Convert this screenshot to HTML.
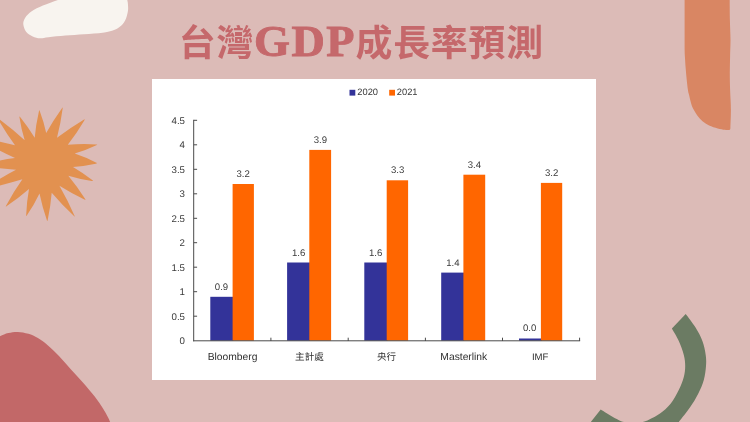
<!DOCTYPE html>
<html lang="zh-Hant">
<head>
<meta charset="utf-8">
<title>台灣GDP成長率預測</title>
<style>
html,body{margin:0;padding:0;}
body{width:750px;height:422px;overflow:hidden;background:#dcbbb7;position:relative;font-family:"Liberation Sans","Noto Sans CJK TC",sans-serif;}
#deco{position:absolute;left:0;top:0;width:750px;height:422px;}
#title{position:absolute;left:0;top:0;width:750px;height:80px;color:#c5686b;white-space:nowrap;}
#title span{position:absolute;display:block;line-height:1;}
#t1,#t3{font-family:"Noto Sans CJK TC","Noto Sans CJK SC",sans-serif;font-weight:700;font-size:37px;}
#t2{font-family:"Liberation Serif",serif;font-weight:700;font-size:44.6px;letter-spacing:1.5px;transform-origin:0 0;transform:scaleX(1.035);-webkit-text-stroke:0.9px #c5686b;}
#chart{position:absolute;left:152px;top:79px;width:444px;height:301px;background:#fff;}
#chart svg{position:absolute;left:0;top:0;filter:blur(0.35px);}
#chart text{font-family:"Liberation Sans","Noto Sans CJK TC",sans-serif;fill:#3a3a3a;}
#chart .cat text{fill:#303030;}
</style>
</head>
<body>
<svg id="deco" width="750" height="422" viewBox="0 0 750 422">
  <!-- white blob top-left -->
  <path fill="#f8f4ef" d="M70.0,-5.0 C68.0,-4.2 62.4,-1.8 57.9,0.0 C53.4,1.8 47.3,3.7 42.9,5.6 C38.5,7.5 34.6,9.2 31.7,11.2 C28.8,13.2 26.6,15.5 25.2,17.7 C23.8,19.9 23.1,22.0 23.3,24.3 C23.5,26.6 24.5,29.7 26.1,31.7 C27.7,33.7 30.4,35.3 32.7,36.4 C35.0,37.5 37.5,38.2 40.1,38.3 C42.7,38.4 44.3,37.7 48.5,37.2 C52.7,36.7 59.4,36.0 65.3,35.5 C71.2,35.0 77.8,34.7 84.0,34.2 C90.2,33.7 98.0,33.3 102.7,32.7 C107.4,32.1 109.2,31.7 112.0,30.8 C114.8,29.9 117.3,28.8 119.5,27.1 C121.7,25.4 123.7,23.1 125.1,20.5 C126.5,17.9 127.4,14.0 127.9,11.2 C128.4,8.4 128.0,5.6 127.9,3.7 C127.8,1.8 127.5,1.4 127.3,0.0 C127.1,-1.4 126.6,-4.2 126.5,-5.0 Z"/>
  <!-- star -->
  <path fill="#e29150" d="M15.0,145.3 Q5.8,132.7 -1.9,119.2 Q-3.1,117.3 -1.4,118.7 Q12.2,128.8 24.7,140.2 Q21.2,129.1 19.5,117.6 Q19.0,115.4 20.3,117.2 Q28.2,127.0 34.7,137.8 Q35.9,124.4 38.9,111.4 Q39.2,109.2 39.8,111.3 Q43.9,122.0 46.2,133.1 Q53.2,120.3 61.8,108.4 Q63.0,106.5 62.6,108.7 Q60.7,123.4 57.0,137.8 Q69.9,128.1 83.7,119.8 Q85.5,118.6 84.3,120.4 Q76.8,133.1 67.8,144.7 Q82.0,143.7 96.2,144.4 Q98.4,144.4 96.3,145.2 Q85.8,150.2 74.7,153.6 Q85.6,157.2 95.9,162.6 Q97.9,163.4 95.7,163.7 Q84.5,166.2 73.0,166.9 Q83.1,172.8 92.2,180.1 Q94.0,181.3 91.8,180.9 Q79.9,179.2 68.3,175.7 Q77.4,186.7 85.0,198.7 Q86.3,200.5 84.4,199.4 Q71.5,193.3 59.4,185.7 Q67.8,200.3 74.5,215.7 Q75.5,217.7 74.0,216.1 Q62.2,205.1 51.7,192.8 Q50.6,206.5 47.7,219.9 Q47.4,222.1 46.8,220.0 Q42.3,207.0 39.5,193.5 Q34.1,204.8 27.1,215.1 Q26.0,217.0 26.2,214.8 Q26.7,201.8 29.0,189.0 Q18.4,198.2 6.8,206.0 Q5.0,207.3 6.2,205.4 Q13.5,191.9 22.4,179.3 Q4.2,184.8 -14.3,188.6 Q-16.5,189.1 -14.6,188.0 Q0.2,178.1 16.0,169.8 Q-1.8,168.5 -19.4,165.3 Q-21.6,165.0 -19.4,164.6 Q-2.4,160.5 15.0,158.1 Q-5.2,148.6 -24.6,137.5 Q-26.5,136.4 -24.4,136.9 Q-4.5,140.2 15.0,145.3 Z"/>
  <!-- red blob bottom-left -->
  <path fill="#c26868" d="M-8.0,340.0 C-6.7,339.4 -2.7,337.3 0.0,336.2 C2.7,335.1 5.3,333.8 8.3,333.1 C11.3,332.4 14.5,331.8 17.8,331.9 C21.1,332.0 25.0,332.8 28.4,333.8 C31.8,334.8 34.7,336.2 37.9,338.1 C41.1,340.0 43.8,342.0 47.4,345.0 C51.0,348.0 55.3,352.2 59.2,356.3 C63.1,360.4 67.0,365.0 71.0,369.4 C75.0,373.8 79.0,377.9 82.9,382.4 C86.9,386.9 91.4,392.3 94.7,396.6 C98.0,400.9 100.8,405.0 103.0,408.4 C105.2,411.8 106.5,414.4 107.7,416.7 C108.9,419.0 109.4,420.3 110.1,422.0 C110.8,423.7 111.7,426.2 112.0,427.0 L-8,427 Z"/>
  <!-- orange shape top-right -->
  <path fill="#d98663" d="M684.6,-5.0 C684.6,-2.5 684.6,2.5 684.6,10.0 C684.6,17.5 684.6,32.2 684.6,40.0 C684.6,47.8 684.6,51.1 684.9,56.6 C685.1,62.1 685.6,67.7 686.1,73.2 C686.6,78.7 687.4,86.2 687.9,89.7 C688.4,93.2 688.3,91.8 688.9,94.2 C689.5,96.6 690.6,101.6 691.3,104.0 C692.0,106.4 692.2,106.9 693.2,108.8 C694.2,110.7 695.8,113.5 697.3,115.6 C698.8,117.7 700.5,119.6 702.5,121.3 C704.5,123.0 706.6,124.3 709.1,125.5 C711.6,126.7 715.1,127.7 717.7,128.4 C720.3,129.1 723.0,129.5 724.8,129.8 C726.6,130.1 727.7,130.1 728.3,130.1 C729.8,130.2 730.4,129.5 730.4,128  C730.5,125.0 730.9,116.4 730.9,110.0 C730.9,103.6 730.3,95.9 730.1,89.7 C729.9,83.5 729.8,78.6 729.8,73.0 C729.8,67.4 730.0,61.5 730.1,56.0 C730.2,50.5 730.5,46.0 730.5,40.0 C730.5,34.0 730.0,26.7 729.9,20.0 C729.8,13.3 729.7,4.2 729.7,0.0 C729.7,-4.2 729.7,-4.2 729.7,-5.0 Z"/>
  <!-- green arc -->
  <path fill="#6b7b63" d="M685.7,313.9 C687.3,316.1 692.6,322.7 695.4,327.2 C698.2,331.7 700.7,336.4 702.4,341.0 C704.1,345.6 705.1,350.7 705.7,354.9 C706.3,359.1 706.3,361.8 706.0,366.0 C705.7,370.2 705.1,375.3 703.8,379.9 C702.5,384.5 700.5,389.1 698.2,393.7 C695.9,398.3 693.1,402.9 689.9,407.6 C686.7,412.3 681.4,418.6 678.8,422.0 C676.1,425.4 674.8,427.0 674.0,428.0 L586,428 L600.7,409.6 C601.7,410.2 604.6,412.0 606.7,413.3 C608.8,414.6 611.1,416.1 613.3,417.3 C615.5,418.5 618.2,419.9 620.0,420.7 C621.8,421.5 621.8,421.5 624.0,422.0 C626.2,422.5 629.9,423.6 633.0,423.6 C636.1,423.6 640.0,422.7 642.7,422.0 C645.4,421.3 646.4,420.9 649.3,419.5 C652.2,418.1 656.5,416.2 660.0,413.6 C663.5,411.0 667.4,407.7 670.6,403.7 C673.8,399.7 676.8,393.9 679.0,389.5 C681.2,385.1 682.8,381.0 683.8,377.1 C684.8,373.2 685.2,369.7 685.2,366.0 C685.2,362.3 684.9,359.1 683.8,354.9 C682.7,350.7 680.8,345.4 678.8,341.0 C676.8,336.6 673.0,330.7 671.9,328.6 Z"/>
</svg>

<div id="title">
  <span id="t1" style="left:178.8px;top:22.0px;font-size:36.9px;letter-spacing:0.8px">台灣</span>
  <span id="t2" style="left:254.2px;top:19.2px;">GDP</span>
  <span id="t3" style="left:355.6px;top:22.0px;font-size:36.9px;letter-spacing:0.75px">成長率預測</span>
</div>

<div id="chart">
<svg width="444" height="301" viewBox="152 79 444 301" text-rendering="geometricPrecision">
  <!-- legend -->
  <rect x="349.5" y="89.8" width="5.8" height="5.8" fill="#333399"/>
  <text x="357.3" y="94.7" font-size="9.3">2020</text>
  <rect x="389.2" y="89.8" width="5.8" height="5.8" fill="#ff6600"/>
  <text x="396.8" y="94.7" font-size="9.3">2021</text>
  <!-- bars -->
  <g fill="#333399">
    <rect x="210.3" y="296.8" width="23.0" height="43.9"/>
    <rect x="287.1" y="262.5" width="22.9" height="78.2"/>
    <rect x="364.3" y="262.5" width="23.1" height="78.2"/>
    <rect x="441.2" y="272.6" width="22.9" height="68.1"/>
    <rect x="519.0" y="338.5" width="22.8" height="2.2"/>
  </g>
  <g fill="#ff6600">
    <rect x="232.6" y="184.0" width="21.3" height="156.7"/>
    <rect x="309.3" y="149.9" width="21.8" height="190.8"/>
    <rect x="386.7" y="180.3" width="21.4" height="160.4"/>
    <rect x="463.4" y="174.7" width="21.8" height="166.0"/>
    <rect x="540.9" y="182.9" width="21.3" height="157.8"/>
  </g>
  <!-- axes -->
  <g stroke="#4a4a4a" stroke-width="1" fill="none">
    <path d="M193.7,119.8 V341.3 M193.2,340.8 H580.1"/>
    <path d="M193.7,120.3 h3.4 M193.7,144.8 h3.4 M193.7,169.3 h3.4 M193.7,193.8 h3.4 M193.7,218.3 h3.4 M193.7,242.7 h3.4 M193.7,267.2 h3.4 M193.7,291.7 h3.4 M193.7,316.2 h3.4"/>
    <path d="M270.9,341 v-3.3 M348.2,341 v-3.3 M425.4,341 v-3.3 M502.5,341 v-3.3 M579.6,341 v-3.3"/>
  </g>
  <!-- y labels -->
  <g font-size="9.7" text-anchor="end">
    <text x="185" y="124.0">4.5</text>
    <text x="185" y="148.2">4</text>
    <text x="185" y="172.7">3.5</text>
    <text x="185" y="197.2">3</text>
    <text x="185" y="221.7">2.5</text>
    <text x="185" y="246.1">2</text>
    <text x="185" y="270.6">1.5</text>
    <text x="185" y="295.1">1</text>
    <text x="185" y="319.6">0.5</text>
    <text x="185" y="344.1">0</text>
  </g>
  <!-- value labels -->
  <g font-size="9.6" text-anchor="middle">
    <text x="221.5" y="290.0">0.9</text>
    <text x="243.2" y="177.4">3.2</text>
    <text x="298.6" y="255.7">1.6</text>
    <text x="320.3" y="143.1">3.9</text>
    <text x="375.7" y="255.7">1.6</text>
    <text x="397.6" y="173.3">3.3</text>
    <text x="452.8" y="265.8">1.4</text>
    <text x="474.4" y="167.7">3.4</text>
    <text x="529.6" y="330.8">0.0</text>
    <text x="551.7" y="175.8">3.2</text>
  </g>
  <!-- category labels -->
  <g class="cat" font-size="10.3" text-anchor="middle">
    <text x="232.6" y="360.3">Bloomberg</text>
    <text x="309.5" y="360.3" font-size="9.6">主計處</text>
    <text x="386.4" y="360.3" font-size="9.5">央行</text>
    <text x="463.8" y="360.3">Masterlink</text>
    <text x="540.2" y="360.3" font-size="9.6">IMF</text>
  </g>
</svg>
</div>
</body>
</html>
